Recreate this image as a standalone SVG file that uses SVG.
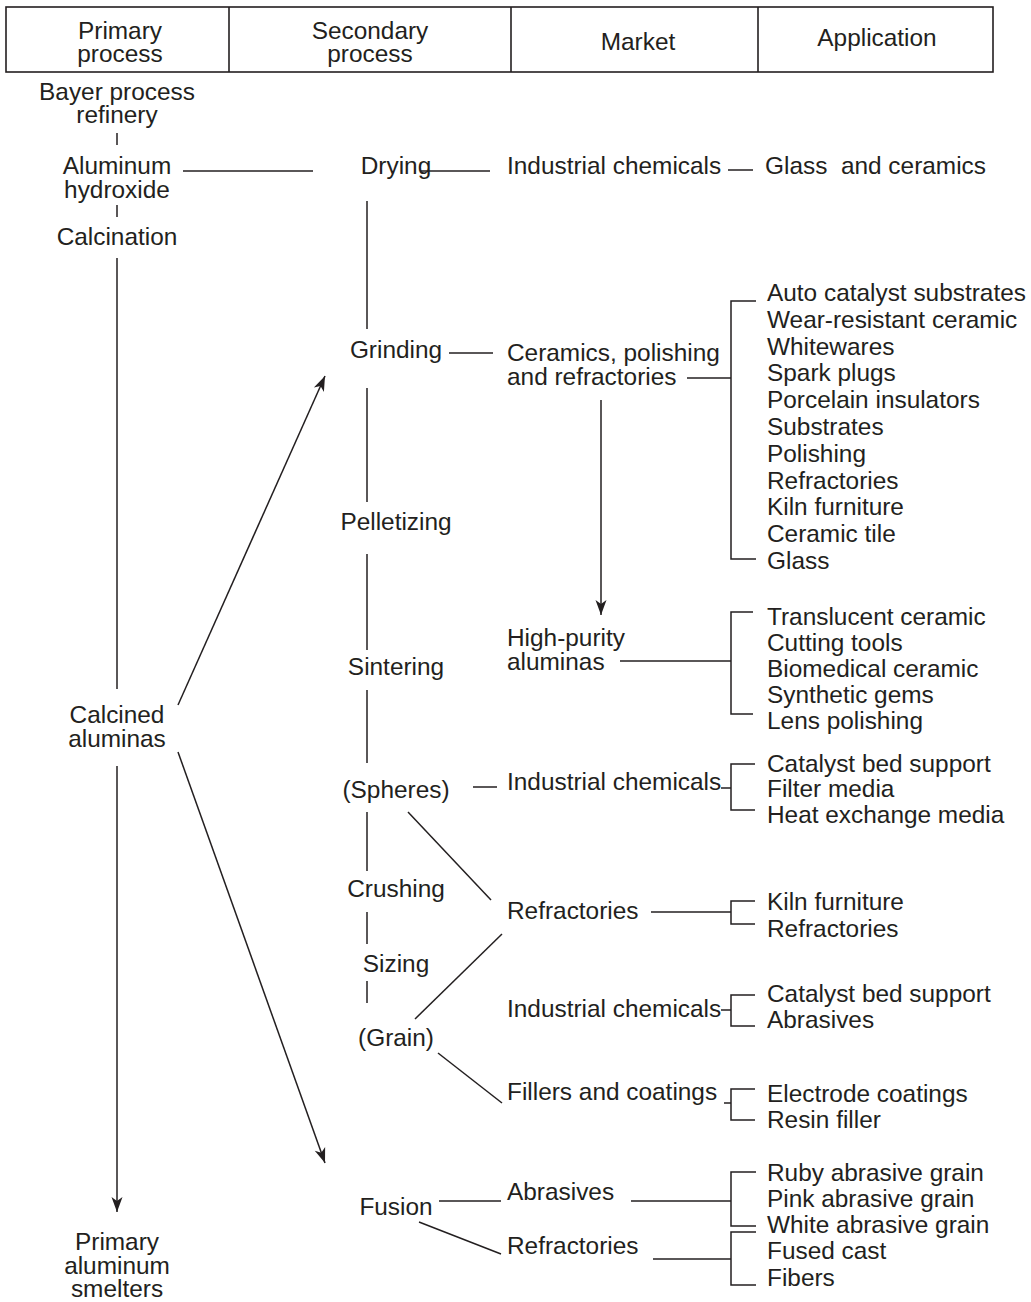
<svg xmlns="http://www.w3.org/2000/svg" width="1031" height="1302" viewBox="0 0 1031 1302">
<defs>
<style>
text { font-family: "Liberation Sans", Arial, Helvetica, sans-serif; font-size: 24.4px; fill: #231f20; }
.m { text-anchor: middle; }
#connectors line, #connectors polyline { stroke: #231f20; stroke-width: 1.5; fill: none; }
#header rect, #header line { stroke: #231f20; stroke-width: 1.6; fill: none; }
</style>
<marker id="ah" viewBox="-16 -7 17 14" refX="0" refY="0" markerWidth="17" markerHeight="14" markerUnits="userSpaceOnUse" orient="auto">
<path d="M0,0 L-15,-5.5 L-11,0 L-15,5.5 Z" fill="#231f20"/>
</marker>
</defs>
<rect width="1031" height="1302" fill="#ffffff"/>

<g id="header">
<rect x="6" y="7" width="987" height="65"/>
<line x1="229" y1="7" x2="229" y2="72"/>
<line x1="511" y1="7" x2="511" y2="72"/>
<line x1="758" y1="7" x2="758" y2="72"/>
<text class="m" x="120" y="39">Primary</text>
<text class="m" x="120" y="62">process</text>
<text class="m" x="370" y="39">Secondary</text>
<text class="m" x="370" y="62">process</text>
<text class="m" x="638" y="50">Market</text>
<text class="m" x="877" y="46">Application</text>
</g>

<g id="connectors">
<line x1="117" y1="133" x2="117" y2="145"/>
<line x1="117" y1="205" x2="117" y2="217"/>
<line x1="117" y1="258" x2="117" y2="689"/>
<line x1="117" y1="766" x2="117" y2="1212" marker-end="url(#ah)"/>
<line x1="183" y1="171" x2="313" y2="171"/>
<line x1="178" y1="705" x2="325" y2="376" marker-end="url(#ah)"/>
<line x1="178" y1="752" x2="325" y2="1163" marker-end="url(#ah)"/>
<line x1="367" y1="201" x2="367" y2="329"/>
<line x1="367" y1="388" x2="367" y2="502"/>
<line x1="367" y1="554" x2="367" y2="650"/>
<line x1="367" y1="690" x2="367" y2="763"/>
<line x1="367" y1="812" x2="367" y2="871"/>
<line x1="367" y1="912" x2="367" y2="944"/>
<line x1="367" y1="981" x2="367" y2="1003"/>
<line x1="420" y1="171" x2="490" y2="171"/>
<line x1="449" y1="353" x2="493" y2="353"/>
<line x1="473" y1="787" x2="497" y2="787"/>
<line x1="408" y1="812" x2="491" y2="900"/>
<line x1="415" y1="1019" x2="502" y2="934"/>
<line x1="438" y1="1053" x2="502" y2="1103"/>
<line x1="439" y1="1201" x2="501" y2="1201"/>
<line x1="419" y1="1222" x2="501" y2="1254"/>
<line x1="601" y1="400" x2="601" y2="615" marker-end="url(#ah)"/>
<line x1="728" y1="170" x2="753" y2="170"/>
<line x1="687" y1="378" x2="731" y2="378"/>
<polyline points="756,301 731,301 731,559 756,559"/>
<line x1="620" y1="661" x2="731" y2="661"/>
<polyline points="753,612 731,612 731,714 753,714"/>
<line x1="721" y1="788" x2="731" y2="788"/>
<polyline points="755,764 731,764 731,810 755,810"/>
<line x1="651" y1="912" x2="731" y2="912"/>
<polyline points="755,901 731,901 731,924 755,924"/>
<line x1="721" y1="1010" x2="731" y2="1010"/>
<polyline points="755,995 731,995 731,1026 755,1026"/>
<line x1="724" y1="1103" x2="731" y2="1103"/>
<polyline points="755,1089 731,1089 731,1120 755,1120"/>
<line x1="631" y1="1201" x2="731" y2="1201"/>
<polyline points="756,1172 731,1172 731,1226 756,1226"/>
<line x1="653" y1="1259" x2="731" y2="1259"/>
<polyline points="756,1232 731,1232 731,1285 756,1285"/>
</g>

<g id="node-bayer"><text class="m" x="117" y="100">Bayer process</text><text class="m" x="117" y="123">refinery</text></g>
<g id="node-hydroxide"><text class="m" x="117" y="174">Aluminum</text><text class="m" x="117" y="198">hydroxide</text></g>
<g id="node-calcination"><text class="m" x="117" y="245">Calcination</text></g>
<g id="node-calcined"><text class="m" x="117" y="723">Calcined</text><text class="m" x="117" y="747">aluminas</text></g>
<g id="node-smelters"><text class="m" x="117" y="1250">Primary</text><text class="m" x="117" y="1274">aluminum</text><text class="m" x="117" y="1297">smelters</text></g>

<g id="node-drying"><text class="m" x="396" y="174">Drying</text></g>
<g id="node-grinding"><text class="m" x="396" y="358">Grinding</text></g>
<g id="node-pelletizing"><text class="m" x="396" y="530">Pelletizing</text></g>
<g id="node-sintering"><text class="m" x="396" y="675">Sintering</text></g>
<g id="node-spheres"><text class="m" x="396" y="798">(Spheres)</text></g>
<g id="node-crushing"><text class="m" x="396" y="897">Crushing</text></g>
<g id="node-sizing"><text class="m" x="396" y="972">Sizing</text></g>
<g id="node-grain"><text class="m" x="396" y="1046">(Grain)</text></g>
<g id="node-fusion"><text class="m" x="396" y="1215">Fusion</text></g>

<g id="mkt-indchem1"><text x="507" y="174">Industrial chemicals</text></g>
<g id="mkt-ceramics"><text x="507" y="361">Ceramics, polishing</text><text x="507" y="385">and refractories</text></g>
<g id="mkt-highpurity"><text x="507" y="646">High-purity</text><text x="507" y="670">aluminas</text></g>
<g id="mkt-indchem2"><text x="507" y="790">Industrial chemicals</text></g>
<g id="mkt-refr1"><text x="507" y="919">Refractories</text></g>
<g id="mkt-indchem3"><text x="507" y="1017">Industrial chemicals</text></g>
<g id="mkt-fillers"><text x="507" y="1100">Fillers and coatings</text></g>
<g id="mkt-abrasives"><text x="507" y="1200">Abrasives</text></g>
<g id="mkt-refr2"><text x="507" y="1254">Refractories</text></g>

<g id="app-glassceramics"><text x="765" y="174" xml:space="preserve">Glass  and ceramics</text></g>
<g id="app-ceramics">
<text x="767" y="301">Auto catalyst substrates</text>
<text x="767" y="328">Wear-resistant ceramic</text>
<text x="767" y="355">Whitewares</text>
<text x="767" y="381">Spark plugs</text>
<text x="767" y="408">Porcelain insulators</text>
<text x="767" y="435">Substrates</text>
<text x="767" y="462">Polishing</text>
<text x="767" y="489">Refractories</text>
<text x="767" y="515">Kiln furniture</text>
<text x="767" y="542">Ceramic tile</text>
<text x="767" y="569">Glass</text>
</g>
<g id="app-highpurity">
<text x="767" y="625">Translucent ceramic</text>
<text x="767" y="651">Cutting tools</text>
<text x="767" y="677">Biomedical ceramic</text>
<text x="767" y="703">Synthetic gems</text>
<text x="767" y="729">Lens polishing</text>
</g>
<g id="app-spheres">
<text x="767" y="772">Catalyst bed support</text>
<text x="767" y="797">Filter media</text>
<text x="767" y="823">Heat exchange media</text>
</g>
<g id="app-refr1">
<text x="767" y="910">Kiln furniture</text>
<text x="767" y="937">Refractories</text>
</g>
<g id="app-grainchem">
<text x="767" y="1002">Catalyst bed support</text>
<text x="767" y="1028">Abrasives</text>
</g>
<g id="app-fillers">
<text x="767" y="1102">Electrode coatings</text>
<text x="767" y="1128">Resin filler</text>
</g>
<g id="app-abrasives">
<text x="767" y="1181">Ruby abrasive grain</text>
<text x="767" y="1207">Pink abrasive grain</text>
<text x="767" y="1233">White abrasive grain</text>
</g>
<g id="app-refr2">
<text x="767" y="1259">Fused cast</text>
<text x="767" y="1286">Fibers</text>
</g>
</svg>
